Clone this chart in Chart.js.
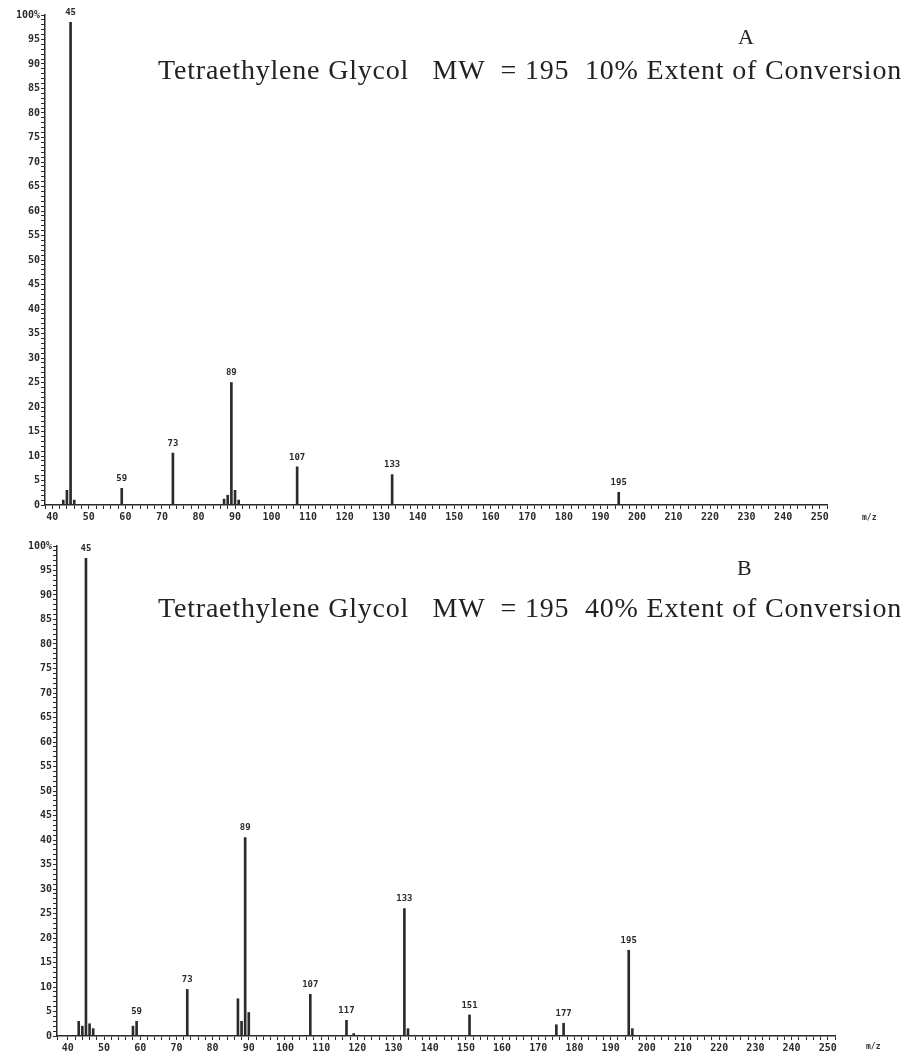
<!DOCTYPE html>
<html>
<head>
<meta charset="utf-8">
<script src="https://cdn.jsdelivr.net/npm/chart.js@4.4.1/dist/chart.umd.min.js"></script>
<style>
  html, body { margin: 0; padding: 0; background: #fff; }
  #page { position: relative; width: 908px; height: 1055px; overflow: hidden; }
  canvas { position: absolute; left: 0; }
  .txt { position: absolute; font-family: "Liberation Serif", "DejaVu Serif", serif; color: #222; white-space: pre; }
  .title { font-size: 28px; letter-spacing: 0.8px; }
  .mz { position: absolute; font-family: "DejaVu Sans Mono", monospace; font-weight: bold; font-size: 8px; color: #333; }
</style>
</head>
<body>
<div id="page">
  <canvas id="chartA" width="908" height="530" style="top:0"></canvas>
  <canvas id="chartB" width="908" height="525" style="top:530px"></canvas>

  <div class="txt" style="left:738px; top:24px; font-size:22px;">A</div>
  <div class="txt title" style="left:158px; top:54px;">Tetraethylene Glycol   MW  = 195  10% Extent of Conversion</div>
  <div class="mz" style="left:862px; top:513px;">m/z</div>

  <div class="txt" style="left:737px; top:555px; font-size:22px;">B</div>
  <div class="txt title" style="left:158px; top:592px;">Tetraethylene Glycol   MW  = 195  40% Extent of Conversion</div>
  <div class="mz" style="left:866px; top:1042px;">m/z</div>
</div>

<script>
// Panel A: 10% extent of conversion
const mzA = [43, 44, 45, 46, 59, 73, 87, 88, 89, 90, 91, 107, 133, 195];
const intA = [1, 3, 98.5, 1, 3.4, 10.6, 1.2, 2, 25, 3, 1, 7.8, 6.2, 2.6];
const labeledA = [45, 59, 73, 89, 107, 133, 195];

// Panel B: 40% extent of conversion
const mzB = [43, 44, 45, 46, 47, 58, 59, 73, 87, 88, 89, 90, 107, 117, 119, 133, 134, 151, 175, 177, 195, 196];
const intB = [3, 2, 97.5, 2.5, 1.5, 2, 3, 9.5, 7.6, 3, 40.5, 4.8, 8.5, 3.2, 0.5, 26, 1.5, 4.3, 2.3, 2.6, 17.5, 1.5];
const labeledB = [45, 59, 73, 89, 107, 117, 133, 151, 177, 195];

// y ticks: 0..100 (every unit, labelled every 5), x ticks: every 2, labelled every 10
const yMax = 100;
const xLabelStep = 10;

const tickFont = { family: 'DejaVu Sans Mono', size: 10, weight: 'bold' };
const ink = '#2b2b2b';

// draws the m/z value above each labelled peak
const peakLabels = {
  id: 'peakLabels',
  afterDatasetsDraw(chart, args, opts) {
    const ctx = chart.ctx;
    const meta = chart.getDatasetMeta(0);
    const points = chart.data.datasets[0].data;
    ctx.save();
    ctx.font = 'bold 9px "DejaVu Sans Mono"';
    ctx.fillStyle = ink;
    ctx.textAlign = 'center';
    ctx.textBaseline = 'bottom';
    meta.data.forEach((bar, i) => {
      if (opts.labeled.includes(points[i].x)) {
        ctx.fillText(String(points[i].x), bar.x, bar.y - 5);
      }
    });
    ctx.restore();
  }
};

function makeChart(canvasId, mz, intensity, labeled, area) {
  const points = mz.map((m, i) => ({ x: m, y: intensity[i] }));
  return new Chart(document.getElementById(canvasId), {
    type: 'bar',
    data: {
      datasets: [{
        data: points,
        backgroundColor: ink,
        borderWidth: 0,
        barThickness: 2
      }]
    },
    plugins: [peakLabels],
    options: {
      responsive: false,
      animation: false,
      layout: { padding: { top: area.top, right: area.right, bottom: 0, left: 0 } },
      plugins: {
        legend: { display: false },
        tooltip: { enabled: false },
        peakLabels: { labeled: labeled }
      },
      scales: {
        x: {
          type: 'linear',
          min: area.xMin,
          max: area.xMax,
          offset: false,
          grid: { offset: false, drawOnChartArea: false, tickLength: 4, color: ink, tickWidth: 1 },
          border: { display: true, color: ink, width: 1.5 },
          afterFit: (scale) => { scale.height = area.xHeight; },
          ticks: {
            stepSize: 2,
            autoSkip: false,
            maxRotation: 0,
            padding: 2,
            color: ink,
            font: tickFont,
            callback: (v) => (v % xLabelStep === 0 && v >= 40 && v <= 250) ? String(v) : ''
          }
        },
        y: {
          min: 0,
          max: yMax,
          grid: { drawOnChartArea: false, tickLength: 4, color: ink, tickWidth: 1 },
          border: { display: true, color: ink, width: 1.5 },
          afterFit: (scale) => { scale.width = area.left; },
          ticks: {
            stepSize: 1,
            autoSkip: false,
            padding: 1,
            color: ink,
            font: tickFont,
            callback: (v) => v === yMax ? '100%' : (v % 5 === 0 ? String(v) : '')
          }
        }
      }
    }
  });
}

makeChart('chartA', mzA, intA, labeledA,
  { top: 15, right: 81, left: 45, xHeight: 25, xMin: 38, xMax: 252 });
makeChart('chartB', mzB, intB, labeledB,
  { top: 16, right: 73, left: 57, xHeight: 19, xMin: 37, xMax: 252 });
</script>
</body>
</html>
